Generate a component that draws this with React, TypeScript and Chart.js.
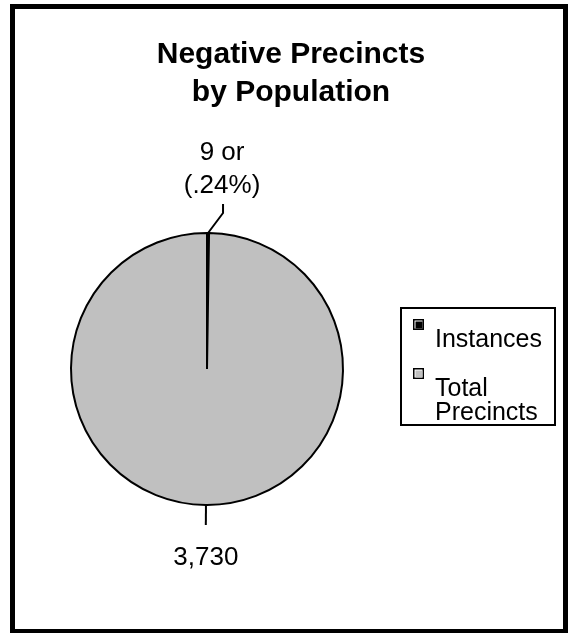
import React, { useEffect, useRef } from "react";
import { Chart, registerables } from "chart.js";

Chart.register(...registerables);

const titleLines = ["Negative Precincts", "by Population"];
const categories = ["Instances", "Total Precincts"];
const values = [9, 3730];
const sliceColors = ["#000000", "#c0c0c0"];
const legendLines = [["Instances"], ["Total", "Precincts"]];
const dataLabels = [["9 or", "(.24%)"], ["3,730"]];

const FONT = '"Liberation Sans", Arial, Helvetica, sans-serif';

const overlayPlugin = {
  id: "overlay",
  afterDraw(chart: any) {
    const ctx: CanvasRenderingContext2D = chart.ctx;
    ctx.save();
    // outer frame
    ctx.fillStyle = "#000";
    ctx.fillRect(10, 4, 558, 5);
    ctx.fillRect(10, 4, 5, 629);
    ctx.fillRect(563, 4, 5, 629);
    ctx.fillRect(10, 629, 558, 4);

    // title
    ctx.fillStyle = "#000";
    ctx.textAlign = "center";
    ctx.textBaseline = "alphabetic";
    ctx.font = `bold 30px ${FONT}`;
    ctx.fillText(titleLines[0], 291, 63);
    ctx.fillText(titleLines[1], 291, 101);

    // data labels with leader lines
    const meta = chart.getDatasetMeta(0);
    ctx.font = `26px ${FONT}`;
    ctx.strokeStyle = "#000";
    ctx.lineWidth = 2;
    meta.data.forEach((arc: any, i: number) => {
      const mid = (arc.startAngle + arc.endAngle) / 2;
      const ox = arc.x + Math.cos(mid) * arc.outerRadius;
      const oy = arc.y + Math.sin(mid) * arc.outerRadius;
      const lines = dataLabels[i];
      if (i === 0) {
        const ex = ox + 15;
        const ey = oy - 20;
        ctx.beginPath();
        ctx.moveTo(ox, oy);
        ctx.lineTo(ex, ey);
        ctx.lineTo(ex, ey - 9);
        ctx.stroke();
        const tx = ex - 1;
        ctx.fillText(lines[1], tx, ey - 20);
        ctx.fillText(lines[0], tx, ey - 53);
      } else {
        const ex = ox + Math.cos(mid) * 20;
        const ey = oy + Math.sin(mid) * 20;
        ctx.beginPath();
        ctx.moveTo(ox, oy);
        ctx.lineTo(ex, ey);
        ctx.stroke();
        ctx.fillText(lines[0], ex, ey + 40);
      }
    });

    // legend
    ctx.lineWidth = 2;
    ctx.strokeRect(401, 308, 154, 117);
    ctx.textAlign = "left";
    ctx.font = `25px ${FONT}`;
    const itemBaselines = [347, 396];
    categories.forEach((_c, i) => {
      const base = itemBaselines[i];
      const sx = 413;
      const sy = base - 28;
      ctx.fillStyle = "#000";
      ctx.fillRect(sx, sy, 11, 11);
      ctx.fillStyle = "#fff";
      ctx.fillRect(sx + 1.5, sy + 1.5, 8, 8);
      ctx.fillStyle = sliceColors[i];
      ctx.fillRect(sx + 2.5, sy + 2.5, 7, 7);
      ctx.fillStyle = "#000";
      legendLines[i].forEach((t, j) => {
        ctx.fillText(t, 435, base + j * 24);
      });
    });
    ctx.restore();
  },
};

export default function App() {
  const ref = useRef<HTMLCanvasElement | null>(null);
  useEffect(() => {
    if (!ref.current) return;
    const chart = new Chart(ref.current, {
      type: "pie",
      data: {
        labels: categories,
        datasets: [
          {
            data: values,
            backgroundColor: sliceColors,
            borderColor: "#000000",
            borderWidth: 2,
            hoverBorderWidth: 2,
          },
        ],
      },
      options: {
        animation: false,
        responsive: false,
        events: [],
        layout: { padding: { left: 70, right: 224, top: 232, bottom: 127 } },
        plugins: {
          legend: { display: false },
          title: { display: false },
          tooltip: { enabled: false },
        },
      },
      plugins: [overlayPlugin],
    });
    return () => chart.destroy();
  }, []);
  return (
    <div style={{ position: "fixed", left: 0, top: 0, width: 568, height: 633, background: "#fff" }}>
      <canvas ref={ref} width={568} height={633} style={{ width: 568, height: 633, display: "block" }} />
    </div>
  );
}
